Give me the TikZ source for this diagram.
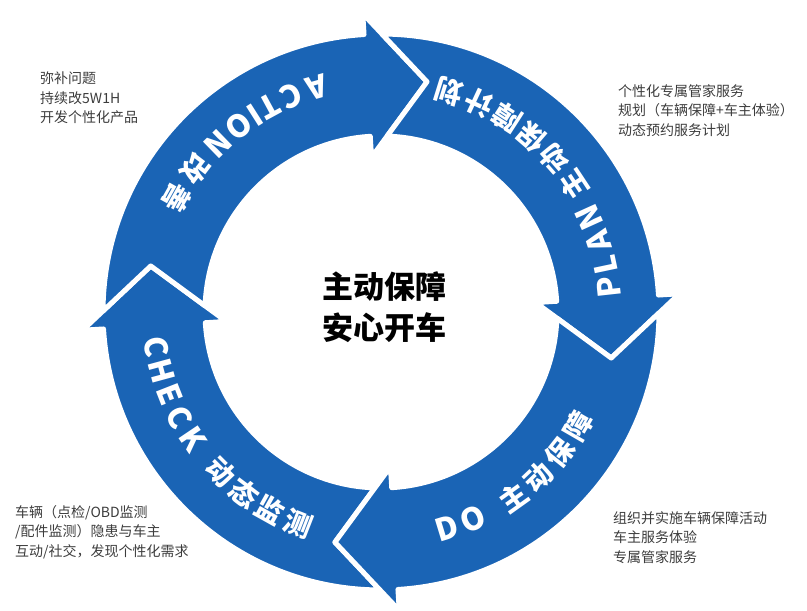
\documentclass[tikz,border=0pt]{standalone}
\usepackage{fontspec}
\setmainfont{Liberation Sans}
\newfontfamily\cjkfont{Noto Sans CJK SC}
\usepackage{tikz}
\usetikzlibrary{calc}
\usepackage{xcolor}
\definecolor{CycleBlue}{HTML}{1A64B5}
\definecolor{NoteGray}{HTML}{3C3C3C}

\tikzset{
  ringarrow/.style={fill=CycleBlue,draw=white,line width=5pt,line join=round},
  ringletter/.style={text=white,inner sep=0pt,font=\cjkfont\bfseries\fontsize{31}{31}\selectfont},
  ringhanzi/.style={text=white,inner sep=0pt,font=\cjkfont\bfseries\fontsize{28}{28}\selectfont},
  note/.style={text=NoteGray,inner sep=0pt,anchor=north west,align=left,
    font=\cjkfont\fontsize{14}{19.5}\selectfont}
}

% #1 = head angle of the arrow before (tail notch), #2 = own head angle
\newcommand{\CycleArrow}[2]{%
  \fill[ringarrow] (#1-3.71:278pt) arc[start angle=#1-3.71,end angle=#2,radius=278pt]
    -- (#2:299pt) -- ($(#2:227pt)+(#2-90:60pt)$) -- (#2:155pt) -- (#2:176pt)
    arc[start angle=#2,end angle=#1-5.49,radius=176pt]
    -- ($(#1:227pt)+(#1-90:60pt)$) -- cycle;}

\begin{document}
\begin{tikzpicture}[x=1pt,y=1pt]
    \useasboundingbox (-381,-299) rectangle (426,312);

    \CycleArrow{273.5}{183.5}
    \CycleArrow{183.5}{93.5}
    \CycleArrow{93.5}{3.5}
    \CycleArrow{3.5}{-86.5}

    % ring labels
    \foreach \ch/\a [count=\i] in {A/105.9,C/112.4,T/118.5,I/122.5,O/127.3,N/134.1}
        \node[ringletter,rotate=\a+90] (act\i) at (\a:234pt) {\ch};
    \foreach \ch/\a [count=\i] in {改/142.5,善/150.8}
        \node[ringhanzi,rotate=\a+90] (actzh\i) at (\a:234pt) {\ch};

    \foreach \ch/\a [count=\i] in {P/6.3,L/12.0,A/18.0,N/24.4}
        \node[ringletter,rotate=\a+90] (plan\i) at (\a:229pt) {\ch};
    \foreach \ch/\a [count=\i] in {主/33.5,动/41.4,保/49.2,障/57.1,计/64.9,划/72.8}
        \node[ringhanzi,rotate=\a+90] (planzh\i) at (\a:231pt) {\ch};

    \foreach \ch/\a [count=\i] in {D/-73,O/-66.1}
        \node[ringletter,rotate=\a+90] (do\i) at (\a:226pt) {\ch};
    \foreach \ch/\a [count=\i] in {主/-54.5,动/-46.3,保/-38.2,障/-30}
        \node[ringhanzi,rotate=\a+90] (dozh\i) at (\a:228pt) {\ch};

    \foreach \ch/\a [count=\i] in {C/188.8,H/195.2,E/201.4,C/207.6,K/214}
        \node[ringletter,rotate=\a+90] (chk\i) at (\a:227pt) {\ch};
    \foreach \ch/\a [count=\i] in {动/225,态/232.9,监/240.8,测/248.7}
        \node[ringhanzi,rotate=\a+90] (chkzh\i) at (\a:227pt) {\ch};

    \node[font=\cjkfont\bfseries\fontsize{31}{41}\selectfont,align=center] (core) at (4,5)
        {主动保障\\安心开车};

    \node[note] (actnote) at (-341,240) {弥补问题\\持续改5W1H\\开发个性化产品};
    \node[note] (plannote) at (237,228) {个性化专属管家服务\\规划（车辆保障+车主体验）\\动态预约服务计划};
    \node[note] (chknote) at (-366,-193) {车辆（点检/OBD监测\\/配件监测）隐患与车主\\互动/社交，发现个性化需求};
    \node[note] (donote) at (232,-199) {组织并实施车辆保障活动\\车主服务体验\\专属管家服务};
\end{tikzpicture}
\end{document}
